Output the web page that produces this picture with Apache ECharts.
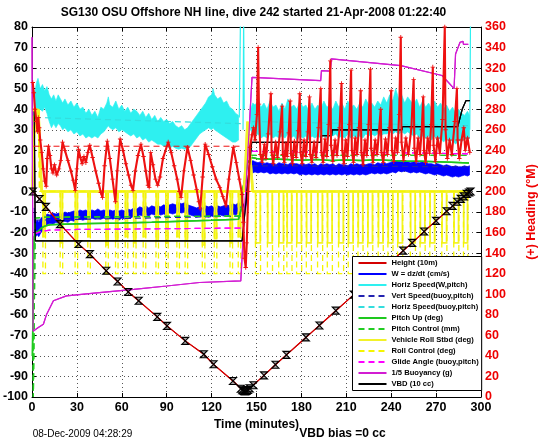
<!DOCTYPE html>
<html><head><meta charset="utf-8">
<script src="https://cdn.jsdelivr.net/npm/echarts@6/dist/echarts.min.js"></script>
<style>html,body{margin:0;padding:0;background:#fff}#c{width:546px;height:442px}</style>
</head><body><div id="c"></div>
<script>
const FONT = '"Liberation Sans", Arial, Helvetica, sans-serif';
const titleText = 'SG130 OSU Offshore NH line, dive 242 started 21-Apr-2008 01:22:40';
const xTicks = {min: 0, max: 300, step: 30};
const leftTicks = {min: -100, max: 80, step: 10};
const rightTicks = {min: 0, max: 360, step: 20};

// Height (10m): [t, value]
const heightPts = [[0.6,0],[5,-3.7],[9.3,-7.5],[18.7,-15.9],[31.1,-25.6],[38.7,-30.5],[49.6,-38.6],[57.2,-43.8],[64.3,-48.9],[71.3,-53.2],[83.7,-61],[90.2,-65.4],[102.4,-72.7],[114.8,-79.2],[121.3,-84.1],[134.3,-92.2],[139,-95.5],[141,-96.8],[142.5,-97.3],[144,-96.8],[146,-95.5],[150,-92.8],[155,-89.5],[162.6,-84.3],[170,-79.5],[180,-73],[190,-66.5],[200,-60],[210,-53.5],[220,-47],[230,-40.5],[240,-34],[254,-25],[265,-17.5],[275,-11],[282,-6.5],[286,-4],[290,-1.7],[293,0]];
const depthMarks = [[0.6,0],[5,-3.7],[9.3,-7.5],[18.7,-15.9],[31.1,-25.6],[38.7,-30.5],[49.6,-38.6],[57.2,-43.8],[64.3,-48.9],[71.3,-53.2],[83.7,-61],[90.2,-65.4],[102.4,-72.7],[114.8,-79.2],[121.3,-84.1],[134.3,-92.2],[139.5,-96],[140.5,-96.7],[141.5,-97.1],[142.3,-97.3],[143.3,-97.1],[144.3,-96.6],[145.5,-95.8],[148,-94.3],[155,-89.5],[162.6,-84.3],[170,-79.5],[183,-71],[192,-65.2],[203,-58],[215,-50.2],[226,-43],[236,-36.6],[248,-28.8],[254,-25],[262,-19.5],[270,-14.3],[277,-9.6],[281,-7],[284,-5],[286.5,-3.6],[288.5,-2.4],[290.5,-1.2],[292,-0.5],[293,0]];

// W = dz/dt band: [t, low, high]
const wDive = [[1.5,-19,-8],[2.5,-22,-15],[3.5,-21,-14],[4.5,-22,-15],[6,-20,-13],[7.5,-19,-12],[9,-17,-11.5],[10.5,-16,-11],[12,-15.5,-11.5],[14,-16,-10.5],[16,-15,-11],[18,-15.5,-10.5],[20,-15,-11],[22,-14.5,-10],[24,-15,-10.5],[26,-14,-10],[28,-14.5,-9.5],[30,-14,-10],[32,-13.5,-9],[34,-14,-9.5],[36,-13.5,-9],[38,-14,-10],[40,-13,-9],[42,-13.5,-9.5],[44,-13,-8.5],[46,-13.5,-9.5],[48,-13,-9],[50,-13.5,-9.5],[52,-13,-9],[54,-13.5,-9.5],[56,-13,-9],[58,-14,-9.5],[60,-13,-9],[62,-13.5,-9.5],[64,-12.5,-8.5],[66,-13,-9],[68,-12,-8],[70,-12.5,-8.5],[72,-11.5,-7.5],[74,-12,-8],[76,-11.5,-7],[78,-12,-8],[80,-11,-7],[82,-11.5,-7.5],[84,-11,-7],[86,-11.5,-7.5],[88,-11,-6.5],[90,-11.5,-7],[92,-10.5,-6.5],[94,-11,-6],[96,-10.5,-6.5],[98,-10,-5.5],[100,-10.5,-6],[102,-10,-5.5],[104,-11,-6.5],[106,-11.5,-7],[108,-12,-7.5],[110,-12.5,-8],[112,-12,-7.5],[114,-12.5,-8],[116,-12,-7],[118,-12.5,-7.5],[120,-12,-7],[122,-12.5,-8],[124,-12,-7],[126,-11.5,-7.5],[128,-12,-7],[130,-11.5,-6.5],[132,-12,-7],[134,-11,-6],[136,-11.5,-6.5],[138,-10.5,-5.5],[139.5,-11,-6]];
const wClimb = [[146,8,14],[147.5,9,15],[149,9.5,14.5],[151,9,14],[153,9.5,14.5],[155,9,13.5],[157,9.5,14],[159,8.5,13.5],[161,9,14],[163,8.5,13],[165,9,14],[167,8.5,13.5],[169,9,13.5],[171,8.5,13],[173,9,14],[175,8.5,13.5],[177,9,13.5],[179,8,13],[181,8.5,13.5],[183,8,13],[185,8.5,13.5],[187,8,13],[189,8.5,13.5],[191,8,12.5],[193,8.5,13.5],[195,8,13],[197,8.5,13.5],[199,8,13],[201,8.5,13.5],[203,8,12.5],[205,8.5,13.5],[207,8,13],[209,8.5,13],[211,8,12.5],[213,8.5,13.5],[215,8,13],[217,8.5,13.5],[219,8,13],[221,8.5,13.5],[223,8,13],[225,8.5,13.5],[227,9,13.5],[229,8.5,13],[231,9,14],[233,8.5,13.5],[235,9,14],[237,8.5,13.5],[239,9,14],[241,9.5,14.5],[243,9,15],[245,10,15],[247,9.5,14.5],[249,10,15],[251,9.5,14.5],[253,9,14],[255,9.5,14.5],[257,9,14],[259,9.5,14],[261,9,14.5],[263,8.5,14],[265,9,13.5],[267,8.5,13.5],[269,8,13],[271,8.5,13.5],[273,8,13],[275,7.5,12.5],[277,8,13],[279,7.5,12.5],[281,7,12],[283,7.5,12.5],[285,7,12],[287,7.5,12],[289,8,12.5],[291,7.5,12],[292.3,8,12.5]];
const wTransit = [[139.5,-8],[141,-6],[142.5,-9],[144,0],[145.5,12],[146,11]];

// Horiz Speed(W,pitch) band: [t, low, high]
const hsDive = [[1.5,36,46],[3,37,53],[4,38,55],[5.5,40,50],[7,39,52],[8.5,41,49],[10,38,51],[11.5,34,47],[13,31,45],[14.5,33,47],[16,31,44],[17.5,33,47],[19,32,45],[20.5,30,43],[22,31,45],[24,29,42],[26,30,44],[28,28,41],[30,29,43],[32,27,40],[34,28,41],[36,26,38],[38,27,40],[40,26,37],[42,27,39],[44,26,36],[46,28,41],[48,29,40],[50,31,43],[51,32,46],[52,31,42],[54,30,41],[56,31,44],[58,29,40],[60,30,42],[62,29,39],[64,28,41],[66,27,38],[68,28,40],[70,26,39],[72,27,37],[74,25,39],[76,26,36],[78,24,38],[80,25,35],[82,24,37],[84,23,34],[86,23,36],[88,22,34],[90,22,35],[92,21,33],[94,22,34],[96,21,32],[98,20.5,31],[100,21,32],[102,20.5,30],[104,21,31],[106,22,33],[108,24,35],[110,26,37],[112,28,39],[114,29,41],[116,30,43],[118,31,46],[120,30,47],[121,31,50],[122,30,47],[124,29,45],[126,28,46],[128,27,43],[130,26,44],[132,25,41],[134,24,40],[136,24,38],[138,25,37]];
const hsClimb = [[146,30,40],[147.5,28,43],[149,27,42],[151,28,44],[153,26,41],[155,27,43],[157,26,40],[159,28,44],[161,26,41],[163,27,42],[165,26,39],[167,27,43],[169,26,40],[171,28,45],[173,26,41],[175,27,42],[177,25,40],[179,27,44],[181,26,41],[183,27,42],[185,25,39],[187,27,43],[189,26,40],[191,27,42],[193,26,40],[195,27,44],[197,26,41],[199,28,42],[201,27,40],[203,28,44],[205,26,41],[207,27,43],[209,26,40],[211,28,44],[213,26,41],[215,27,42],[217,26,40],[219,27,43],[221,26,41],[223,28,45],[225,27,42],[227,28,43],[229,27,41],[231,28,44],[233,27,42],[235,28,46],[237,28,43],[239,29,47],[241,28,44],[243,29,50],[245,28,45],[247,29,47],[249,28,43],[251,29,46],[253,28,44],[255,27,42],[257,28,45],[259,26,41],[261,27,44],[263,26,41],[265,27,43],[267,25,40],[269,27,44],[271,25,41],[273,26,43],[275,24,40],[277,26,42],[279,24,39],[281,25,41],[283,23,38],[285,25,40],[287,24,38],[289,26,37],[291,25,39],[292.3,26,37]];
const hsSpikes = [[138.5,36],[139.3,85],[139.3,'-'],[141,30],[141.4,85],[141.8,40],[141.8,'-'],[292.5,30],[293,85]];

const vertBuoy = [[2,-14],[139.5,-12],[140,'-'],[147,12.5],[292,12]];
const horizBuoy = [[2,36],[139.5,33],[140,'-'],[147,34],[292,32]];
const pitchUp = [[0.3,-80],[0.6,-60],[1,-30],[1.5,-22],[2.5,-20],[4,-19.5],[6,-18],[8,-17],[12,-16.2],[20,-16],[40,-15.6],[60,-15.4],[80,-15],[100,-14.5],[120,-14],[138,-13.5],[140,-8],[141,2],[142,5],[144,14],[147,16.5],[150,16],[155,15.5],[160,15.8],[170,15.5],[180,15.2],[190,15.5],[200,15],[210,15.3],[220,15],[230,15.4],[240,15],[250,14.8],[260,14.7],[270,14.5],[280,14.2],[292,13.8]];
const pitchCtl = [[0.5,-60],[0.9,-100],[1.4,-100],[2.2,-13],[8,-12.5],[139.5,-12],[140,'-'],[146,17.5],[292,17.5]];
const rollLine = [[0.3,0],[1.2,25],[2.5,38],[4.3,40],[5.5,15],[6.5,0],[141.5,0],[142.5,10],[144,34],[145,34],[146.5,10],[147.5,0],[292,0]];
const rollCtlLine = [[0.3,0],[0.8,40],[4.5,40],[5,0],[292,0]];
// roll pulses: [start, end, depth]
const rollPulses = [[7.5,8.8,-22],[19,20.3,-25],[29,30.3,-24],[37.5,38.8,-22],[49.5,50.8,-26],[56,57.3,-24],[62.5,63.8,-22],[68,69.3,-25],[74.5,75.8,-22],[83,84.3,-24],[89.5,90.8,-25],[97,98.3,-22],[102.5,103.8,-24],[114,115.3,-26],[122,123.3,-23],[132.5,133.8,-25],[138,139.3,-22],[149.5,152.5,-25],[157.5,160.5,-25],[165,168,-25],[170.5,173.5,-25],[177,180,-25],[183.5,186.5,-25],[191,194,-25],[197.5,200.5,-25],[205,208,-25],[211.5,214.5,-25],[218,221,-25],[224.5,227.5,-25],[231.5,234.5,-25],[238,241,-25],[244.5,247.5,-25],[253,256,-25],[259.5,262.5,-25],[266,269,-25],[274,277,-25],[282,285,-25],[288.5,291,-25]];
const rollCtlPulses = [[7.3,9,-40],[18.8,20.5,-40],[28.8,30.5,-40],[37.3,39,-40],[49.3,51,-40],[55.8,57.5,-40],[62.3,64,-40],[67.8,69.5,-40],[74.3,76,-40],[82.8,84.5,-40],[89.3,91,-40],[96.8,98.5,-40],[102.3,104,-40],[113.8,115.5,-40],[121.8,123.5,-40],[132.3,134,-40],[137.8,139.5,-40],[149.3,152.7,-40],[157.3,160.7,-40],[164.8,168.2,-40],[170.3,173.7,-40],[176.8,180.2,-40],[183.3,186.7,-40],[190.8,194.2,-40],[197.3,200.7,-40],[204.8,208.2,-40],[211.3,214.7,-40],[217.8,221.2,-40],[224.3,227.7,-40],[231.3,234.7,-40],[237.8,241.2,-40],[244.3,247.7,-40],[252.8,256.2,-40],[259.3,262.7,-40],[265.8,269.2,-40],[273.8,277.2,-40],[281.8,285.2,-40],[288.3,291.2,-40]];
const glide = [[2,-20.5],[6,-19.5],[12,-18.8],[30,-18.5],[80,-18.2],[139.5,-17.8],[140,'-'],[147,19.5],[200,19],[250,18.8],[292,18.3]];
const buoy = [[0,75],[0.4,75],[0.7,-68],[2,-67.5],[4.2,-66.2],[7.6,-64.6],[9.8,-59.7],[14.3,-53.2],[23,-50.8],[45,-49.2],[68,-47.6],[90,-46],[112,-44.3],[139.5,-43.5],[147,55.5],[192.9,53.9],[193.4,58.8],[199.3,58.5],[200,64.5],[246.4,61.2],[247.5,60.5],[274,56.4],[282,50],[283,66.9],[286,72.6],[288,73],[288.3,71.5],[291.5,71.5]];
const vbd = [[1.5,39],[2.2,-24],[140.4,-24],[146.8,23.9],[192.9,23.9],[193.2,27.1],[200.2,27.1],[200.5,30],[247.3,30],[247.6,31.5],[284.5,31.5],[287.5,40.1],[288.5,40.1],[290,44.2],[292.5,44.2]];

// heading (right axis, deg M)
const headingPts = [[0.5,306],[1.2,296],[2,280],[3,268],[3.6,258],[4.2,272],[4.8,262],[5.5,250],[6.5,238],[7.5,222],[8.5,210],[9.5,205],[10.2,232],[11,244],[12,235],[13,222],[14,218],[15,226],[16.5,216],[18,222],[19.2,230],[20.4,248],[22,240],[24,230],[26,220],[27.5,211],[28.9,201],[30,222],[31.1,241],[32.3,233],[33.5,227],[34.7,234],[36,228],[37.3,238],[38.6,245],[40.5,233],[42.5,220],[44.5,208],[46,199],[47.1,194],[48.5,225],[50.3,249],[52,232],[53.8,212],[55.7,190],[57,220],[58.9,251],[60.8,240],[62.7,227],[64.5,216],[66.2,206],[67.5,201],[69,220],[70.8,235],[72.8,246],[74.5,234],[76,220],[77.5,206],[78.3,204],[79.3,238],[80.8,226],[82.5,212],[84,206],[85.5,214],[87.5,232],[91,248],[93,238],[95,225],[97,212],[98.5,200],[99.6,194],[101.5,220],[103.9,243],[106,230],[108,216],[110,202],[111.5,190],[112.4,183],[114,214],[115.7,246],[118,236],[120.5,224],[123,212],[125.5,204],[127.5,195],[129.6,186],[131.5,212],[134.5,243],[136.5,228],[138.5,212],[140.4,197],[141.2,170],[142,135],[142.8,126],[143.5,150],[144.5,200],[145.7,243],[147,255],[148,262],[149,250],[150.3,275],[151.1,340],[151.6,285],[152.6,236],[153.8,228],
[155.3,246],[156.3,232],[157.8,256],[159.6,295],[160.1,238],[161.2,227],
[162.8,248],[164,233],[165.7,258],[167.1,283],[167.6,236],[168.6,228],
[169.6,247],[170.5,234],[171.5,257],[172.5,288],[173,237],[174,227],
[175.3,249],[176.5,233],[177.8,259],[178.9,295],[179.4,238],[180.5,227],
[181.8,250],[183,234],[184.3,258],[185.4,292],[185.9,236],[187,228],
[188.5,248],[189.8,233],[191.5,262],[192.9,300],[193.4,238],[194.5,228],
[195.8,251],[197,234],[198.2,265],[199.3,327],[199.8,245],[201,229],
[202.5,250],[203.8,235],[205.5,262],[206.8,305],[207.3,240],[208.4,227],
[209.6,250],[210.8,234],[212,265],[213.2,318],[213.7,240],[214.8,228],
[216,252],[217.2,236],[218.4,262],[219.6,298],[220.1,238],[221.2,226],
[222.5,250],[223.7,235],[224.9,265],[226.1,319],[226.6,242],[227.8,228],
[229.3,250],[230.6,236],[231.8,258],[233,280],[233.5,238],[234.7,228],
[236.2,251],[237.5,236],[238.8,262],[240,298],[240.5,240],[241.7,229],
[243,252],[244.2,238],[245.3,275],[246.4,350],[246.9,248],[248.2,230],
[249.8,252],[251.5,236],[253.5,262],[255,309],[255.5,242],[256.7,229],
[258,252],[259.2,236],[260.4,260],[261.4,292],[261.9,240],[263,228],
[264.4,252],[265.6,237],[266.7,265],[267.8,321],[268.3,245],[269.5,229],
[271,252],[272.5,237],[274.3,270],[275.8,360],[276.3,260],[277.5,232],
[279,250],[280.5,236],[282.5,268],[283.9,300],[284.4,250],[285.5,232],
[287,250],[288.5,262],[289.5,240],[291,252],[292.5,238]];
const headingWanted = [[1,244],[141,244]];

const C = {
  height:'#d40000', w:'#0000ff', hs:'#2ef0f0', vb:'#2323b0', hb:'#33dddd',
  pu:'#1ec81e', pc:'#22cc22', roll:'#f2f22a', rollc:'#f5f500', glide:'#ff00ff',
  buoy:'#d21cd2', vbd:'#000000', head:'#ee1111'
};

function band(triples, color) {
  return {
    type:'custom', name:'band', data:[[triples[0][0], triples[0][1]]], encode:{x:0, y:1},
    silent:true,
    renderItem: function(params, api) {
      const pts = [];
      for (const p of triples) pts.push(api.coord([p[0], p[2]]));
      for (let i = triples.length - 1; i >= 0; i--) pts.push(api.coord([triples[i][0], triples[i][1]]));
      return {type:'polygon', shape:{points:pts}, style:{fill:color, stroke:color, lineWidth:0.7}};
    }
  };
}
function pulses(data, color, width, dash) {
  return {
    type:'custom', name:'pulse', data:data, encode:{x:[0,1], y:2}, silent:true,
    renderItem: function(params, api) {
      const s = api.value(0), e = api.value(1), d = api.value(2);
      const pts = [api.coord([s,0]), api.coord([s,d]), api.coord([e,d]), api.coord([e,0])];
      return {type:'polyline', shape:{points:pts}, style:{stroke:color, lineWidth:width, lineDash:dash, fill:'none'}};
    }
  };
}
function line(name, data, color, width, dash, extra) {
  return Object.assign({
    type:'line', name:name, data:data, symbol:'none', showSymbol:false, connectNulls:false,
    lineStyle:{color:color, width:width, type: dash || 'solid'}, itemStyle:{color:color},
    silent:true
  }, extra || {});
}
const DASH = [6,4];

const legendNames = ['Height (10m)','W = dz/dt (cm/s)','Horiz Speed(W,pitch)','Vert Speed(buoy,pitch)','Horiz Speed(buoy,pitch)','Pitch Up (deg)','Pitch Control (mm)','Vehicle Roll Stbd (deg)','Roll Control (deg)','Glide Angle (buoy,pitch)','1/5 Buoyancy (g)','VBD (10 cc)'];

const axisCommon = {
  axisLine:{show:true, onZero:false, lineStyle:{color:'#000', width:1}},
  axisTick:{show:true, inside:true, length:4, lineStyle:{color:'#000'}},
};
const lblStyle = {fontFamily:FONT, fontWeight:'bold', fontSize:12.5, color:'#000'};

const chart = echarts.init(document.getElementById('c'), null, {renderer:'canvas'});
chart.setOption({
  animation:false,
  backgroundColor:'#fff',
  grid:{left:32, right:65, top:27, bottom:45, containLabel:false, outerBoundsMode:'none'},
  xAxis:[
    Object.assign({type:'value', min:xTicks.min, max:xTicks.max, interval:xTicks.step, position:'bottom',
      axisLabel:Object.assign({margin:4, showMinLabel:true, showMaxLabel:true}, lblStyle),
      splitLine:{show:true, lineStyle:{color:'#555', type:[1,3], width:1}},
      name:'Time (minutes)', nameLocation:'middle', nameGap:17,
      nameTextStyle:{fontFamily:FONT, fontWeight:'bold', fontSize:12, color:'#000'}}, axisCommon),
    Object.assign({type:'value', min:xTicks.min, max:xTicks.max, interval:xTicks.step, position:'top',
      axisLabel:{show:false}, splitLine:{show:false}}, axisCommon)
  ],
  yAxis:[
    Object.assign({type:'value', min:leftTicks.min, max:leftTicks.max, interval:leftTicks.step, position:'left',
      axisLabel:Object.assign({margin:4, showMinLabel:true, showMaxLabel:true}, lblStyle),
      splitLine:{show:true, lineStyle:{color:'#555', type:[1,3], width:1}}}, axisCommon),
    Object.assign({type:'value', min:rightTicks.min, max:rightTicks.max, interval:rightTicks.step, position:'right',
      axisLabel:Object.assign({margin:4, showMinLabel:true, showMaxLabel:true}, lblStyle, {color:'#ee0000'}),
      splitLine:{show:false},
      name:'(+) Heading (°M)', nameLocation:'middle', nameRotate:90, nameGap:44,
      nameTextStyle:{fontFamily:FONT, fontWeight:'bold', fontSize:12.5, color:'#ee0000'}}, axisCommon)
  ],
  legend:{
    data:legendNames, orient:'vertical', left:352.5, top:256.5,
    backgroundColor:'#fff', borderColor:'#000', borderWidth:1, borderRadius:0,
    padding:[1,3,1,5], itemWidth:28, itemHeight:8, itemGap:0,
    itemStyle:{color:'rgba(0,0,0,0)', borderWidth:0},
    textStyle:{fontFamily:FONT, fontWeight:'bold', fontSize:7.6, color:'#000', lineHeight:11},
    selectedMode:false
  },
  graphic:[
    {type:'text', x:253.5, y:13, style:{text:titleText, font:'bold 12px ' + FONT, fill:'#000', textAlign:'center', textVerticalAlign:'middle'}},
    {type:'text', x:82.5, y:434.5, style:{text:'08-Dec-2009 04:28:29', font:'10px ' + FONT, fill:'#000', textAlign:'center', textVerticalAlign:'middle'}},
    {type:'text', x:342.5, y:433.5, style:{text:'VBD bias =0 cc', font:'bold 12px ' + FONT, fill:'#000', textAlign:'center', textVerticalAlign:'middle'}}
  ],
  series:[
    line('Height (10m)', heightPts, C.height, 1.1),
    line('W = dz/dt (cm/s)', wTransit, C.w, 1.5),
    line('Horiz Speed(W,pitch)', hsSpikes, C.hs, 1.2),
    line('Vert Speed(buoy,pitch)', vertBuoy, C.vb, 1.2, DASH),
    line('Horiz Speed(buoy,pitch)', horizBuoy, C.hb, 1.2, DASH),
    line('Pitch Up (deg)', pitchUp, C.pu, 1.5),
    line('Pitch Control (mm)', pitchCtl, C.pc, 1.3, DASH),
    line('Vehicle Roll Stbd (deg)', rollLine, C.roll, 2.5),
    line('Roll Control (deg)', rollCtlLine, C.rollc, 1.3, DASH),
    line('Glide Angle (buoy,pitch)', glide, C.glide, 1.2, DASH),
    line('1/5 Buoyancy (g)', buoy, C.buoy, 1.2),
    line('VBD (10 cc)', vbd, C.vbd, 1.2),
    band(hsDive, C.hs), band(hsClimb, C.hs),
    band(wDive, C.w), band(wClimb, C.w),
    line('Pitch Up (deg)', pitchUp, C.pu, 1.5),
    line('Pitch Control (mm)', pitchCtl, C.pc, 1.3, DASH),
    line('Glide Angle (buoy,pitch)', glide, C.glide, 1.2, DASH),
    pulses(rollPulses, C.roll, 1.8, null),
    pulses(rollCtlPulses, C.rollc, 1.3, DASH),
    line('Vehicle Roll Stbd (deg)', rollLine, C.roll, 2.5),
    line('Roll Control (deg)', rollCtlLine, C.rollc, 1.3, DASH),
    line('1/5 Buoyancy (g)', buoy, C.buoy, 1.2),
    line('VBD (10 cc)', vbd, C.vbd, 1.2),
    line('Height (10m)', heightPts, C.height, 1.1),
    line('marks', depthMarks, '#000', 0, null, {
      lineStyle:{width:0, opacity:0}, symbol:'path://M0,0L10,10L0,10L10,0Z', symbolSize:[7,7], showSymbol:true,
      itemStyle:{color:'rgba(0,0,0,0.35)', borderColor:'#000', borderWidth:1.1}}),
    line('wanted', headingWanted, C.head, 1, DASH, {yAxisIndex:1}),
    line('heading', headingPts, C.head, 2.1, null, {yAxisIndex:1, symbol:'path://M4,0h2v4h4v2h-4v4h-2v-4h-4v-2h4z', symbolSize:4.5, showSymbol:true})
  ]
});
</script></body></html>
